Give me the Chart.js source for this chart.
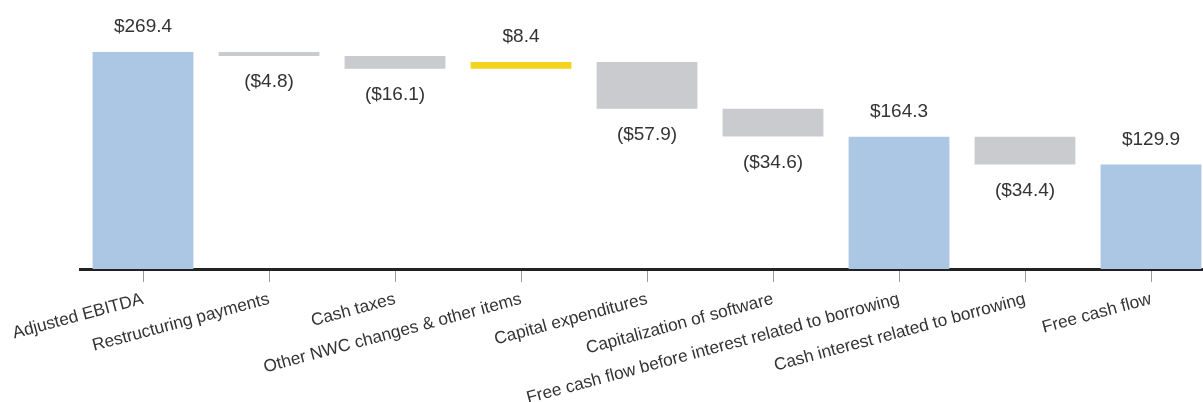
<!DOCTYPE html>
<html>
<head>
<meta charset="utf-8">
<script src="https://cdn.jsdelivr.net/npm/chart.js@4.4.1/dist/chart.umd.min.js"></script>
<style>
    html, body { margin: 0; padding: 0; background: #fff; overflow: hidden; }
    canvas { display: block; }
</style>
</head>
<body>
<canvas id="waterfall" width="1214" height="402"></canvas>
<script>
// Datos del puente EBITDA -> flujo libre
var categorias = [
    'Adjusted EBITDA',
    'Restructuring payments',
    'Cash taxes',
    'Other NWC changes & other items',
    'Capital expenditures',
    'Capitalization of software',
    'Free cash flow before interest related to borrowing',
    'Cash interest related to borrowing',
    'Free cash flow'
];
var valores = [269.4, -4.8, -16.1, 8.4, -57.9, -34.6, 164.3, -34.4, 129.9];
var tipos = ['total', 'baja', 'baja', 'alza', 'baja', 'baja', 'total', 'baja', 'total'];

var colores = { total: '#abc7e3', baja: '#c9cbce', alza: '#f4d31c' };

// rangos flotantes [inicio, fin] para cada barra
var rangos = [];
var acumulado = 0;
valores.forEach(function(v, i) {
    if (tipos[i] == 'total') {
        rangos.push([0, v]);
        acumulado = v;
    } else {
        rangos.push([acumulado, acumulado + v]);
        acumulado = acumulado + v;
    }
});

function etiqueta(v) {
    return v < 0 ? '($' + Math.abs(v).toFixed(1) + ')' : '$' + v.toFixed(1);
}

var etiquetasPlugin = {
    id: 'etiquetas',
    afterDatasetsDraw: function(chart) {
        var ctx = chart.ctx;
        var meta = chart.getDatasetMeta(0);
        ctx.save();
        ctx.font = '19px "Liberation Sans", Arial, sans-serif';
        ctx.fillStyle = '#333333';
        ctx.textAlign = 'center';
        ctx.textBaseline = 'middle';
        meta.data.forEach(function(bar, i) {
            var arriba = Math.min(bar.y, bar.base);
            var abajo = Math.max(bar.y, bar.base);
            var y = valores[i] < 0 ? abajo + 26 : arriba - 25;
            ctx.fillText(etiqueta(valores[i]), bar.x, y);
        });
        ctx.restore();
    }
};

new Chart(document.getElementById('waterfall'), {
    type: 'bar',
    data: {
        labels: categorias,
        datasets: [{
            data: rangos,
            backgroundColor: tipos.map(function(t) { return colores[t]; }),
            borderWidth: 0,
            borderSkipped: false,
            barPercentage: 0.8,
            categoryPercentage: 1
        }]
    },
    options: {
        responsive: false,
        animation: false,
        layout: { padding: { left: 80, right: 0, top: 0, bottom: 0 } },
        plugins: {
            legend: { display: false },
            tooltip: { enabled: false }
        },
        scales: {
            x: {
                afterFit: function(scale) { scale.height = 133; },
                border: { display: true, color: '#222222', width: 3 },
                grid: {
                    offset: false,
                    drawOnChartArea: false,
                    drawTicks: true,
                    tickLength: 13,
                    color: '#9a9a9a'
                },
                ticks: {
                    autoSkip: false,
                    minRotation: 15,
                    maxRotation: 15,
                    padding: 7,
                    color: '#333333',
                    font: { family: '"Liberation Sans", Arial, sans-serif', size: 17.3 }
                }
            },
            y: {
                display: false,
                min: 0,
                max: 334
            }
        }
    },
    plugins: [etiquetasPlugin]
});
</script>
</body>
</html>
